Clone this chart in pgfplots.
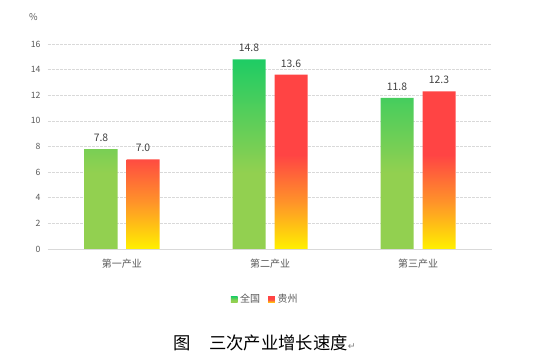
\documentclass[border=0pt]{standalone}
\usepackage{pgfplots}
\pgfplotsset{compat=1.18}
\usepackage{fontspec}
\setmainfont{Noto Sans CJK SC}
\newfontfamily\djv{DejaVu Sans}
\definecolor{gT}{RGB}{30,204,100}
\definecolor{gB}{RGB}{146,208,80}
\definecolor{rT}{RGB}{255,68,68}
\definecolor{rO}{RGB}{255,150,40}
\definecolor{rY}{RGB}{255,240,0}
\definecolor{tickc}{RGB}{89,89,89}
\definecolor{valc}{RGB}{64,64,64}
\definecolor{gridc}{RGB}{217,217,217}
\pgfdeclareverticalshading{greenbar}{100bp}{color(0bp)=(gB); color(25bp)=(gB); color(45bp)=(gB); color(75bp)=(gT); color(100bp)=(gT)}
\pgfdeclareverticalshading{redbar}{100bp}{color(0bp)=(rY); color(25bp)=(rY); color(38bp)=(rO); color(52bp)=(rT); color(75bp)=(rT); color(100bp)=(rT)}
\begin{document}
\begin{tikzpicture}
\begin{axis}[
  name=ax,
  scale only axis,
  width=333pt, height=153.75pt,
  xmin=-0.5, xmax=2.5,
  ymin=0, ymax=16,
  ytick={0,2,...,16},
  xtick={0,1,2},
  xticklabels={第一产业,第二产业,第三产业},
  x tick label style={font=\fontsize{7.5}{8}\selectfont, text=tickc},
  y tick label style={font=\fontsize{6.5}{7}\selectfont, text=tickc},
  /pgf/number format/assume math mode=true,
  axis x line=bottom, axis y line=left,
  axis line style={-},
  x axis line style={draw=gridc},
  y axis line style={draw=none},
  xtick style={draw=none},
  ytick style={draw=none},
  extra x ticks={-0.5,0.5,1.5,2.5},
  extra x tick labels={},
  extra x tick style={tick align=inside, major tick length=3pt, xmajorgrids=false, tick style={draw=gridc}},
  ymajorgrids,
  grid style={draw=gridc, dash pattern=on 2pt off 1pt},
  ybar=6.75pt,
  bar width=24.75pt,
  nodes near coords,
  nodes near coords style={font=\fontsize{7.8}{8}\selectfont, text=valc, yshift=2pt,
    /pgf/number format/fixed, /pgf/number format/fixed zerofill, /pgf/number format/precision=1, /pgf/number format/assume math mode=true},
  clip=false,
  legend style={at={(0.49,-0.247)}, anchor=center, draw=none, legend columns=2, font=\fontsize{7.5}{8}\selectfont, text=tickc, /tikz/every even column/.append style={column sep=4pt}},
]
\addplot[draw=none, shading=greenbar, legend image code/.code={\shade[shading=greenbar] (0pt,-2.5pt) rectangle (5pt,2.5pt);}] coordinates {(0,7.8) (1,14.8) (2,11.8)};
\addlegendentry{全国}
\addplot[draw=none, shading=redbar, legend image code/.code={\shade[shading=redbar] (0pt,-2.5pt) rectangle (5pt,2.5pt);}] coordinates {(0,7.0) (1,13.6) (2,12.3)};
\addlegendentry{贵州}
\node[font=\fontsize{7}{8}\selectfont, text=tickc] at ([xshift=-11pt,yshift=20pt]rel axis cs:0,1) {\%};
\node[font=\fontsize{13}{14}\selectfont, anchor=center] at ([xshift=-4pt]rel axis cs:0.5,-0.4585) {图\hspace{1.05em}三次产业增长速度{\djv\fontsize{7}{8}\selectfont\color{gray}↵}};
\end{axis}
\path[use as bounding box] ([xshift=-36pt,yshift=-82.5pt]ax.south west) rectangle ([xshift=31.5pt,yshift=33pt]ax.north east);
\end{tikzpicture}
\end{document}
